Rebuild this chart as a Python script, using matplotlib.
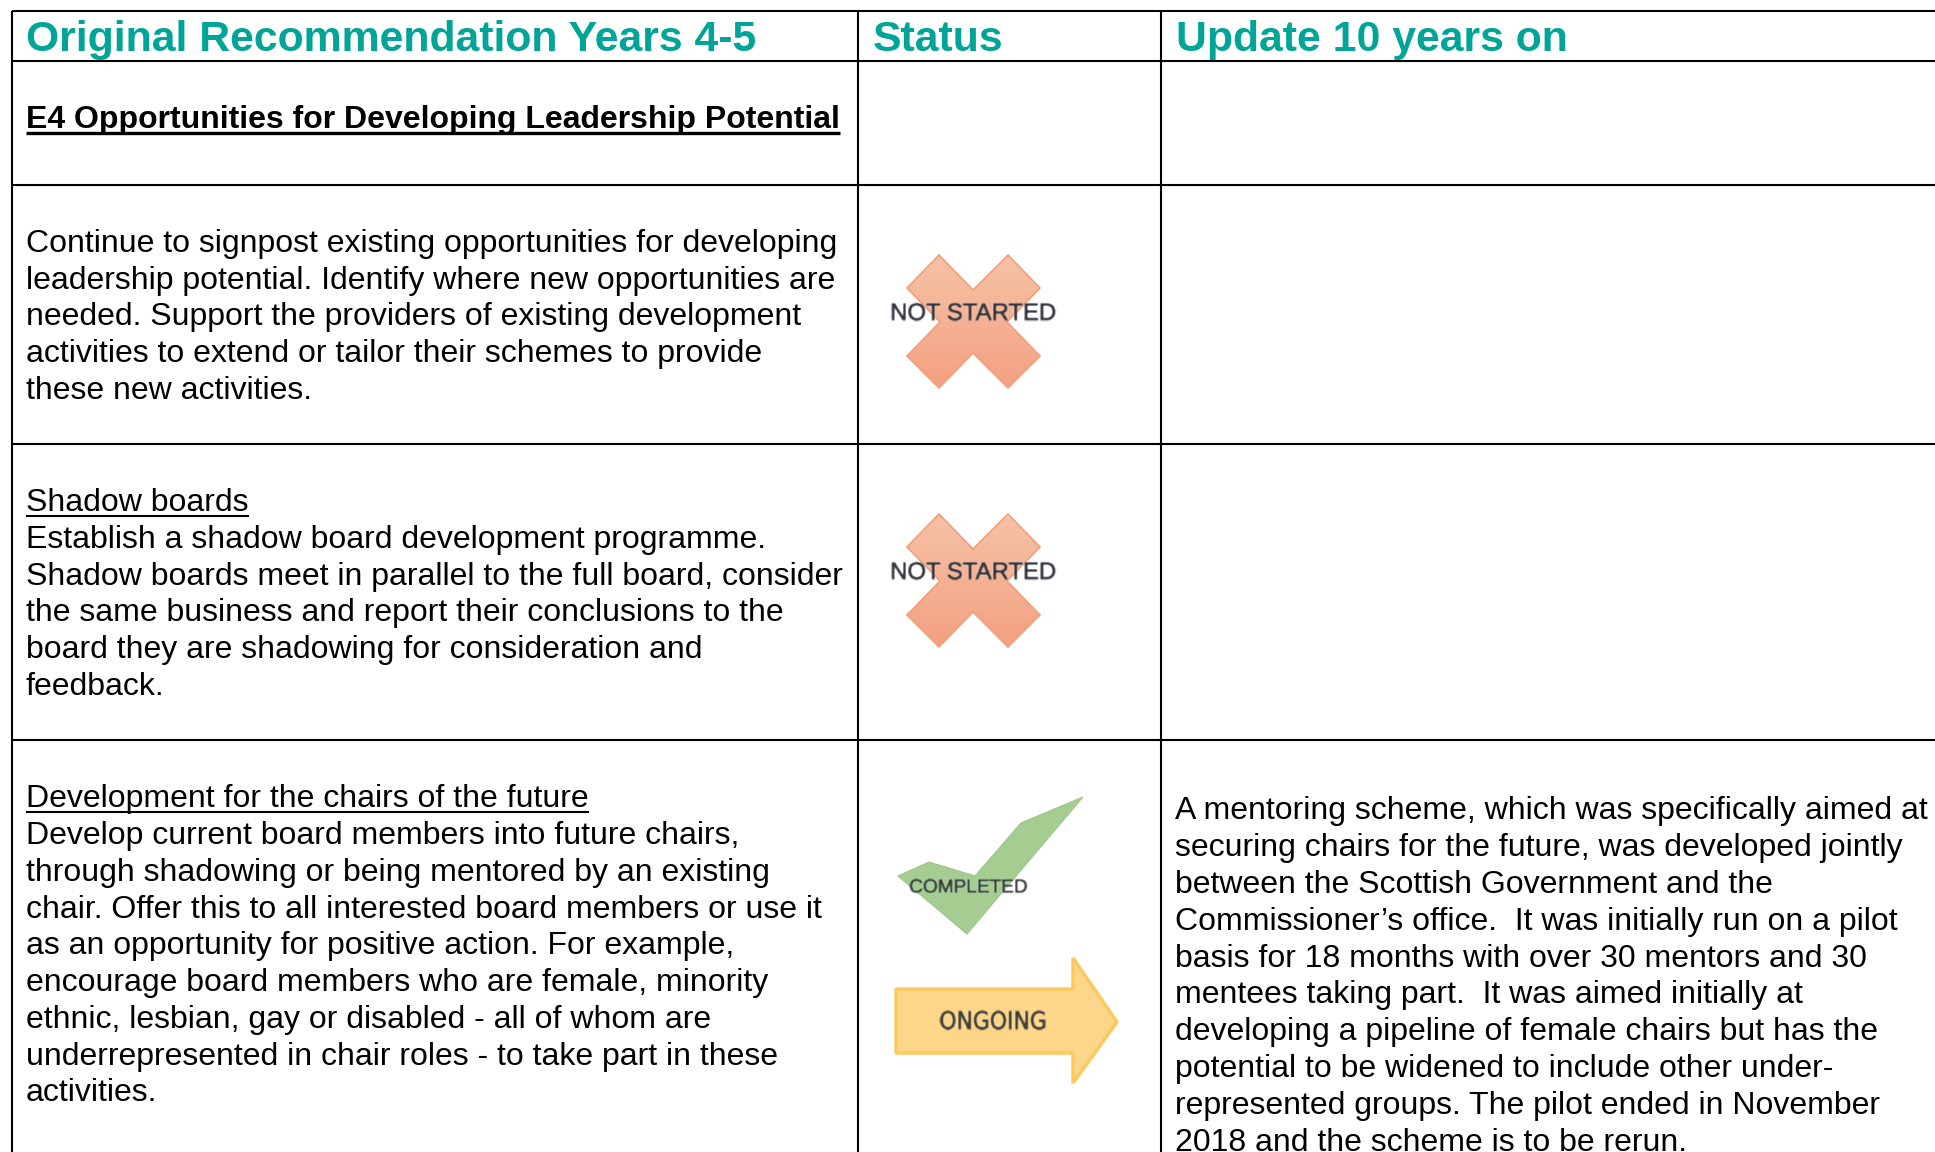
import matplotlib
matplotlib.use("Agg")
import matplotlib.pyplot as plt
import matplotlib.patheffects as pe
import numpy as np
from matplotlib.patches import Polygon

W, H = 1935, 1152
DPI = 100
TEAL = "#00a597"
BODY_PT = 23.05
LEAD = 36.75

plt.rcParams["font.family"] = ["Liberation Sans", "DejaVu Sans"]

# ---------------- content ----------------
headers = ["Original Recommendation Years 4-5", "Status", "Update 10 years on"]
section_title = "E4 Opportunities for Developing Leadership Potential"

signpost_lines = [
    "Continue to signpost existing opportunities for developing",
    "leadership potential. Identify where new opportunities are",
    "needed. Support the providers of existing development",
    "activities to extend or tailor their schemes to provide",
    "these new activities.",
]
shadow_title = "Shadow boards"
shadow_lines = [
    "Establish a shadow board development programme.",
    "Shadow boards meet in parallel to the full board, consider",
    "the same business and report their conclusions to the",
    "board they are shadowing for consideration and",
    "feedback.",
]
chairs_title = "Development for the chairs of the future"
chairs_lines = [
    "Develop current board members into future chairs,",
    "through shadowing or being mentored by an existing",
    "chair. Offer this to all interested board members or use it",
    "as an opportunity for positive action. For example,",
    "encourage board members who are female, minority",
    "ethnic, lesbian, gay or disabled - all of whom are",
    "underrepresented in chair roles - to take part in these",
    "activities.",
]
update_lines = [
    "A mentoring scheme, which was specifically aimed at",
    "securing chairs for the future, was developed jointly",
    "between the Scottish Government and the",
    "Commissioner\u2019s office.  It was initially run on a pilot",
    "basis for 18 months with over 30 mentors and 30",
    "mentees taking part.  It was aimed initially at",
    "developing a pipeline of female chairs but has the",
    "potential to be widened to include other under-",
    "represented groups. The pilot ended in November",
    "2018 and the scheme is to be rerun.",
]

# table grid, pixels
col_x = [12, 858, 1161]
row_y = [11, 61, 185, 444, 740]

# icon outlines, pixels
cross_x = [939, 973, 1008, 1040, 1007, 1040, 1008, 973, 939, 907, 940, 907]
cross_y = [255, 290, 255, 288, 322, 356, 388, 353, 388, 356, 322, 288]
tick_x = [898, 929, 975, 1021, 1083, 967]
tick_y = [876, 862, 876, 823, 797, 934]
arrow_x = [896, 1073, 1073, 1117, 1073, 1073, 896]
arrow_y = [989, 989, 958, 1022, 1083, 1053, 1053]
cross_offsets = [0, 259]

fig = plt.figure(figsize=(W / DPI, H / DPI), dpi=DPI)
ax = fig.add_axes([0, 0, 1, 1])
ax.set_xlim(0, W)
ax.set_ylim(H, 0)
ax.axis("off")


# ---------------- helpers ----------------
def soften(img, dpi):
    # the status icons are upscaled bitmaps in the source, so blur them a touch
    pad = 3
    out = np.pad(img, ((pad, pad), (pad, pad), (0, 0)))
    kernel = np.array([0.2, 0.6, 0.2])
    for axis in (0, 1):
        out = np.apply_along_axis(lambda v: np.convolve(v, kernel, mode="same"), axis, out)
    return out, -pad, -pad


def put_lines(lines, x, y, lead=LEAD):
    for i, line in enumerate(lines):
        ax.text(x, y + i * lead, line, fontsize=BODY_PT, color="black", va="baseline")


def underlined(s, x, y, weight="normal", gap=4.5, lw=1.5):
    t = ax.text(x, y, s, fontsize=BODY_PT, weight=weight, color="black", va="baseline")
    bb = t.get_window_extent(fig.canvas.get_renderer())
    ax.plot([bb.x0, bb.x1], [y + gap, y + gap], color="black", lw=lw, solid_capstyle="butt")


def icon_text(x, y, s, size, color, **kw):
    t = ax.text(x, y, s, fontsize=size, color=color, ha="center", va="center", zorder=4, **kw)
    t.set_path_effects([pe.withStroke(linewidth=0.5, foreground=color)])
    t.set_agg_filter(soften)
    return t


def draw_cross(dy):
    ys = [v + dy for v in cross_y]
    pts = np.column_stack([cross_x, ys])
    grad = np.linspace(0, 1, 64).reshape(-1, 1)
    top, bot = np.array([0.965, 0.76, 0.65]), np.array([0.955, 0.63, 0.51])
    img = top + (bot - top) * grad[..., None]
    im = ax.imshow(img, extent=(min(cross_x), max(cross_x), max(ys), min(ys)),
                   aspect="auto", zorder=2)
    poly = Polygon(pts, closed=True, fc="none", ec="#f0a078", lw=1.2, zorder=3)
    ax.add_patch(poly)
    im.set_clip_path(poly)
    icon_text(973, 314 + dy, "NOT STARTED", 17.2, "#2f323c")


# ---------------- grid ----------------
for x in col_x:
    ax.plot([x, x], [row_y[0], H], color="black", lw=1.5, solid_capstyle="butt", zorder=5)
for y in row_y:
    ax.plot([col_x[0], W], [y, y], color="black", lw=1.5, solid_capstyle="butt", zorder=5)

# ---------------- text ----------------
header_x = [26, 873, 1176]
for x, s in zip(header_x, headers):
    ax.text(x, 51, s, fontsize=30.8, weight="bold", color=TEAL, va="baseline")

underlined(section_title, 26, 128, weight="bold", gap=5, lw=2.4)
put_lines(signpost_lines, 26, 252)
underlined(shadow_title, 26, 511)
put_lines(shadow_lines, 26, 548)
underlined(chairs_title, 26, 807)
put_lines(chairs_lines, 26, 844)
put_lines(update_lines, 1175, 819, lead=36.9)

# ---------------- status icons ----------------
for dy in cross_offsets:
    draw_cross(dy)

ax.add_patch(Polygon(np.column_stack([tick_x, tick_y]), closed=True,
                     fc="#a5cd92", ec="#9cc68a", lw=0.8, zorder=3))
icon_text(968, 888, "COMPLETED", 13.7, "#353f3c")

ax.add_patch(Polygon(np.column_stack([arrow_x, arrow_y]), closed=True,
                     fc="#fdd68a", ec="#fdc95f", lw=2.5, joinstyle="bevel", zorder=3))
icon_text(993, 1022, "ONGOING", 17.5, "#3f3f38",
          family=["DejaVu Sans"], stretch="condensed")

fig.savefig("out.png", dpi=DPI)
